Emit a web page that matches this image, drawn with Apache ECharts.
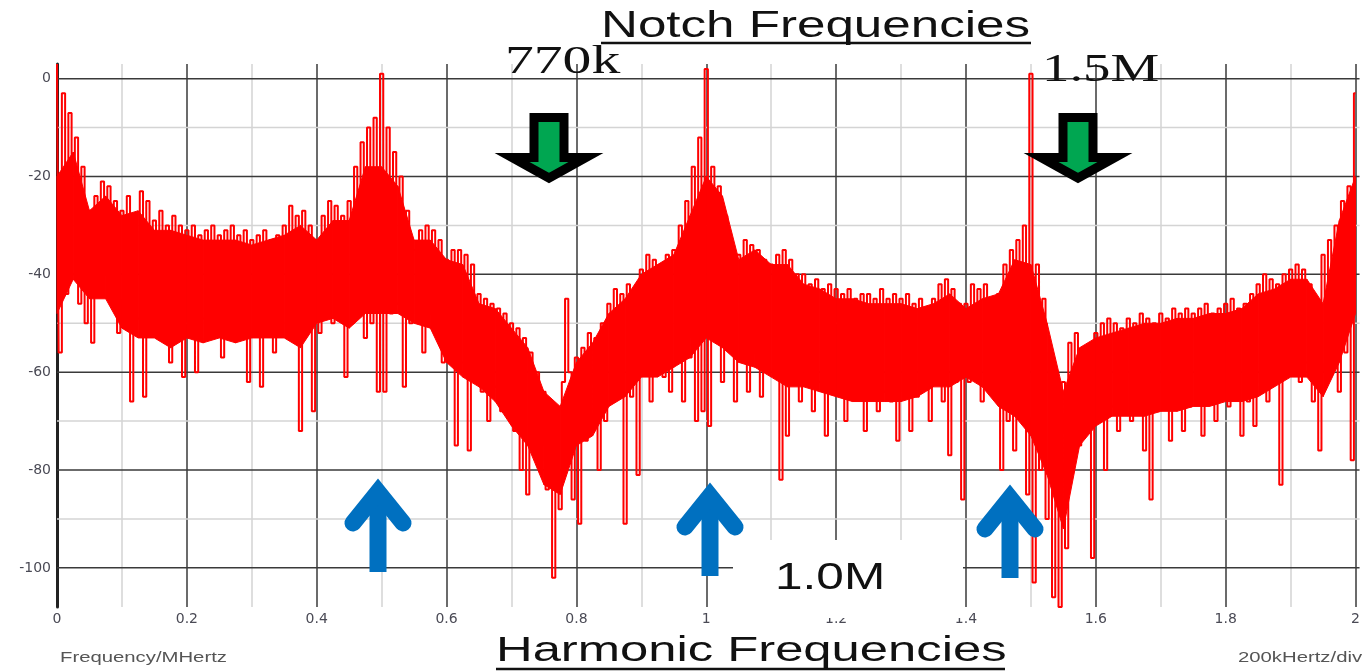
<!DOCTYPE html>
<html><head><meta charset="utf-8">
<script src="https://cdn.jsdelivr.net/npm/echarts@6/dist/echarts.min.js"></script>
<style>html,body{margin:0;padding:0;background:#fff}#c{width:1363px;height:671px}</style>
</head><body><div id="c"></div>
<script>
// ---- data ----
const freqStepMHz = 0.005;            // spacing of the sampled spike points (MHz)
const spectrumDb = [
  3, -56, -3, -44, -7, -40, -12, -46, -18, -50,
  -27, -54, -24, -44, -21, -40, -22, -44, -25, -52,
  -27, -50, -24, -66, -28, -49, -23, -65, -25, -51,
  -29, -52, -27, -49, -30, -58, -28, -50, -30, -61,
  -31, -51, -30, -60, -32, -49, -31, -53, -30, -50,
  -32, -57, -31, -49, -30, -51, -32, -52, -31, -62,
  -33, -50, -32, -63, -31, -51, -33, -56, -32, -50,
  -30, -53, -26, -50, -28, -72, -27, -52, -30, -68,
  -33, -52, -28, -47, -25, -50, -26, -48, -28, -61,
  -25, -50, -18, -47, -13, -53, -10, -50, -8, -64,
  1, -64, -10, -48, -15, -46, -20, -63, -27, -50,
  -35, -48, -31, -56, -30, -48, -31, -52, -33, -58,
  -37, -58, -35, -75, -35, -58, -36, -76, -38, -60,
  -44, -64, -45, -70, -46, -63, -47, -68, -48, -66,
  -50, -72, -51, -80, -53, -85, -56, -72, -60, -78,
  -64, -84, -66, -102, -67, -88, -62, -45, -60, -86,
  -57, -91, -55, -74, -52, -72, -53, -80, -50, -70,
  -46, -66, -43, -64, -44, -91, -42, -65, -44, -81,
  -39, -60, -36, -66, -37, -59, -38, -61, -36, -64,
  -35, -58, -30, -66, -25, -57, -18, -70, -12, -68,
  2, -71, -18, -52, -22, -62, -28, -54, -36, -66,
  -36, -54, -33, -64, -34, -56, -35, -65, -37, -57,
  -38, -60, -36, -82, -35, -73, -37, -61, -40, -66,
  -40, -61, -42, -68, -41, -62, -43, -73, -42, -62,
  -43, -64, -44, -70, -43, -63, -45, -65, -44, -72,
  -44, -65, -45, -68, -43, -64, -45, -66, -44, -74,
  -45, -64, -44, -72, -46, -65, -45, -63, -47, -70,
  -45, -62, -42, -66, -41, -77, -43, -62, -46, -86,
  -46, -62, -42, -60, -43, -66, -42, -61, -46, -64,
  -44, -80, -38, -70, -35, -76, -33, -68, -30, -85,
  1, -103, -38, -80, -45, -90, -56, -106, -68, -108,
  -62, -96, -54, -72, -52, -75, -55, -70, -56, -98,
  -52, -68, -50, -80, -49, -67, -50, -72, -51, -68,
  -49, -70, -50, -67, -48, -76, -49, -86, -50, -68,
  -48, -67, -49, -74, -47, -66, -48, -72, -47, -67,
  -48, -66, -47, -73, -46, -66, -48, -70, -47, -65,
  -46, -67, -45, -65, -47, -73, -46, -66, -44, -71,
  -42, -62, -40, -66, -41, -62, -42, -83, -40, -61,
  -39, -59, -38, -62, -39, -58, -42, -66, -46, -76,
  -36, -60, -33, -57, -30, -64, -25, -56, -22, -78,
  -3
];
// solid core of the noise band (upper / lower edge), sampled every 0.025 MHz
const coreStepMHz = 0.025;
const coreUpperDb = [
  -20, -15, -27, -24, -28, -27, -31, -31, -32, -33,
  -33, -33, -34, -33, -32, -30, -33, -29, -29, -18,
  -18, -22, -33, -33, -37, -38, -46, -47, -51, -55,
  -64, -67, -58, -54, -48, -45, -40, -38, -36, -28,
  -20, -24, -37, -35, -38, -38, -42, -43, -45, -45,
  -46, -46, -46, -47, -46, -44, -47, -45, -44, -37,
  -38, -50, -64, -55, -53, -52, -51, -50, -50, -49,
  -49, -48, -48, -47, -44, -43, -41, -41, -46, -29,
  -20
];
const coreLowerDb = [
  -48, -41, -45, -45, -51, -53, -53, -55, -53, -54,
  -53, -54, -53, -53, -53, -55, -50, -49, -51, -48,
  -48, -48, -50, -51, -58, -61, -63, -66, -71, -75,
  -83, -85, -75, -73, -67, -65, -61, -61, -59, -57,
  -53, -55, -58, -59, -61, -63, -63, -64, -65, -66,
  -66, -66, -66, -65, -63, -63, -61, -63, -67, -69,
  -73, -81, -92, -75, -71, -69, -69, -69, -68, -68,
  -67, -67, -66, -66, -65, -63, -61, -61, -65, -58,
  -48
];
const yLabelDb = [0, -20, -40, -60, -80, -100];
const yMajorGridDb = [0, -20, -40, -60, -80, -100];
const yMinorGridDb = [-10, -30, -50, -70, -90];
const xMinMHz = 0, xMaxMHz = 2, xTickStepMHz = 0.2;
const yMinDb = -108, yMaxDb = 3;

// ---- build ----
const spectrumPoints = spectrumDb.map((v, i) => [+(i * freqStepMHz).toFixed(3), v]);
const hGridData = yMajorGridDb.map(v => [xMinMHz, v, 1]).concat(yMinorGridDb.map(v => [xMinMHz, v, 0]));
const coreData = [];
for (let i = 0; i + 1 < coreUpperDb.length; i++) {
  coreData.push([+(i * coreStepMHz).toFixed(3), coreUpperDb[i], coreLowerDb[i],
                 +((i + 1) * coreStepMHz).toFixed(3), coreUpperDb[i + 1], coreLowerDb[i + 1]]);
}

const chart = echarts.init(document.getElementById('c'), null, {renderer: 'canvas'});

const labelFont = 'DejaVu Sans';
const txt = (text, x, y, size, family, sx, color) => ({
  type: 'text', x: x, y: y, scaleX: sx, z: 100, silent: true,
  style: {text: text, fontSize: size, fontFamily: family, fill: color || '#000', align: 'left', verticalAlign: 'middle'}
});
const greenArrow = (cx) => ({
  type: 'polygon', z: 95, silent: true,
  shape: {points: [[cx - 15, 117.5], [cx + 15, 117.5], [cx + 15, 157.5], [cx + 37, 157.5], [cx, 178], [cx - 37, 157.5], [cx - 15, 157.5]]},
  style: {fill: '#00a651', stroke: '#000', lineWidth: 9, lineJoin: 'miter'}
});
const blueArrow = (cx, tipV, bottom) => ([
  {type: 'line', z: 95, silent: true, shape: {x1: cx, y1: tipV + 12, x2: cx, y2: bottom},
   style: {stroke: '#0070c0', lineWidth: 17, lineCap: 'butt'}},
  {type: 'polyline', z: 95, silent: true, shape: {points: [[cx - 25, tipV + 43], [cx, tipV + 12], [cx + 25, tipV + 43]]},
   style: {stroke: '#0070c0', lineWidth: 17, lineCap: 'round', lineJoin: 'miter', fill: null}}
]);

const graphics = [
  {type: 'rect', z: 90, silent: true, shape: {x: 733, y: 540, width: 230, height: 78}, style: {fill: '#fff'}},
  txt('Notch Frequencies', 601, 27, 36, 'Liberation Sans', 1.42, '#111'),
  {type: 'line', z: 100, silent: true, shape: {x1: 601, y1: 43, x2: 1031, y2: 43}, style: {stroke: '#111', lineWidth: 2.5}},
  txt('Harmonic Frequencies', 496, 651, 35, 'Liberation Sans', 1.45, '#111'),
  {type: 'line', z: 100, silent: true, shape: {x1: 496, y1: 669, x2: 1005, y2: 669}, style: {stroke: '#111', lineWidth: 2.5}},
  txt('1.0M', 775, 579, 37, 'Liberation Sans', 1.34, '#111'),
  txt('770k', 505, 62, 40, 'Liberation Serif', 1.44, '#111'),
  txt('1.5M', 1042, 70, 40, 'Liberation Serif', 1.37, '#111'),
  txt('Frequency/MHertz', 60, 658, 14, 'Liberation Sans', 1.45, '#555'),
  txt('200kHertz/div', 1238, 658, 14, 'Liberation Sans', 1.45, '#555'),
  greenArrow(549),
  greenArrow(1078)
].concat(blueArrow(378, 480, 572), blueArrow(710, 484, 576), blueArrow(1010, 486, 578));

chart.setOption({
  animation: false,
  backgroundColor: '#fff',
  grid: {left: 57, right: 2, top: 64, bottom: 64, containLabel: false},
  xAxis: {
    type: 'value', min: xMinMHz, max: xMaxMHz, interval: xTickStepMHz,
    axisLine: {show: false}, axisTick: {show: false},
    splitLine: {show: true, lineStyle: {color: '#3a3a3a', width: 1.5}},
    minorTick: {show: false, splitNumber: 2},
    minorSplitLine: {show: true, lineStyle: {color: '#d4d4d4', width: 1.5}},
    axisLabel: {color: '#4a4a55', fontSize: 14, fontFamily: labelFont, margin: 5}
  },
  yAxis: {
    type: 'value', min: yMinDb, max: yMaxDb,
    axisLine: {show: true, onZero: false, lineStyle: {color: '#222', width: 3}},
    axisTick: {show: false},
    splitLine: {show: false},
    axisLabel: {customValues: yLabelDb, color: '#4a4a55', fontSize: 14, fontFamily: labelFont, margin: 6}
  },
  series: [
    {
      type: 'custom', name: 'hgrid', z: 1, silent: true,
      encode: {x: 0, y: 1},
      data: hGridData,
      renderItem: function (params, api) {
        const y = api.value(1);
        const p1 = api.coord([xMinMHz, y]);
        const p2 = api.coord([xMaxMHz, y]);
        const major = api.value(2) === 1;
        return {type: 'line', shape: {x1: p1[0], y1: p1[1], x2: p2[0] + 4, y2: p2[1]},
          style: {stroke: major ? '#3a3a3a' : '#d4d4d4', lineWidth: 1.5}};
      }
    },
    {
      type: 'custom', name: 'Noise core', z: 2, silent: true,
      encode: {x: [0, 3], y: [1, 2, 4, 5]},
      data: coreData,
      renderItem: function (params, api) {
        const a = api.coord([api.value(0), api.value(1)]);
        const b = api.coord([api.value(3), api.value(4)]);
        const c = api.coord([api.value(3), api.value(5)]);
        const d = api.coord([api.value(0), api.value(2)]);
        return {type: 'polygon', shape: {points: [a, b, c, d]},
          style: {fill: '#ff0000', stroke: '#ff0000', lineWidth: 1}};
      }
    },
    {
      type: 'line', name: 'Spectrum', z: 3, silent: true,
      data: spectrumPoints, showSymbol: false, symbol: 'none', step: 'middle',
      lineStyle: {color: '#ff0000', width: 2},
      itemStyle: {color: '#ff0000'}
    }
  ],
  graphic: graphics
});
</script>
</body></html>
